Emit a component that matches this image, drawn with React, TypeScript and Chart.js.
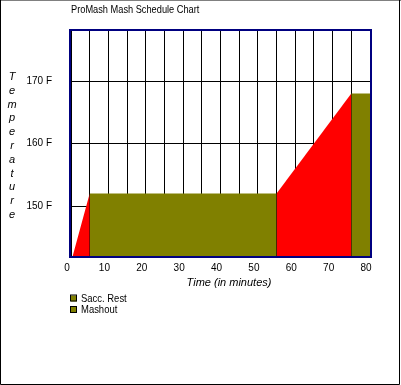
import React, { useEffect, useRef } from "react";
import { Chart, registerables } from "chart.js";

Chart.register(...registerables);

// Mash schedule profile (time in minutes, temperature in °F)
const stepTimes = [0, 5, 55, 75, 80];
const stepTemps = [141, 152, 152, 168, 168];
const segmentNames = ["Strike Ramp", "Sacc. Rest", "Mashout Ramp", "Mashout"];
const segmentColors = ["#FF0000", "#808000", "#FF0000", "#808000"];
const legendSegments = ["Sacc. Rest", "Mashout"];

const xTickValues = [0, 5, 10, 15, 20, 25, 30, 35, 40, 45, 50, 55, 60, 65, 70, 75, 80];
const yTickValues = [150, 160, 170];
const yMin = 142;
const yMax = 178;

const chartTitle = "ProMash Mash Schedule Chart";
const yTitle = "Temperature";
const xTitle = "Time (in minutes)";

const FONT = "'Liberation Sans', Arial, sans-serif";

function narrowText(ctx: CanvasRenderingContext2D, text: string, x: number, y: number, sx: number) {
  ctx.save();
  ctx.translate(x, y);
  ctx.scale(sx, 1);
  ctx.fillText(text, 0, 0);
  ctx.restore();
}

export default function App() {
  const ref = useRef<HTMLCanvasElement | null>(null);

  useEffect(() => {
    const canvas = ref.current;
    if (!canvas) return;

    const datasets = segmentNames.map((name, i) => ({
      label: name,
      data: [
        { x: stepTimes[i], y: stepTemps[i] },
        { x: stepTimes[i + 1], y: stepTemps[i + 1] },
      ],
      backgroundColor: segmentColors[i],
      borderColor: segmentColors[i],
      borderWidth: 0,
      pointRadius: 0,
      fill: "start",
      tension: 0,
    }));

    const decor = {
      id: "decor",
      afterDraw(chart: any) {
        const ctx = chart.ctx as CanvasRenderingContext2D;
        const a = chart.chartArea;
        ctx.save();
        // plot frame
        ctx.strokeStyle = "#000080";
        ctx.lineWidth = 2;
        ctx.strokeRect(a.left - 1, a.top - 1, a.right - a.left + 2, a.bottom - a.top + 2);
        // title
        ctx.fillStyle = "#000";
        ctx.font = `11px ${FONT}`;
        ctx.textAlign = "left";
        ctx.textBaseline = "middle";
        narrowText(ctx, chartTitle, a.left, 10, 0.84);
        // x title
        ctx.font = `italic 11px ${FONT}`;
        ctx.textAlign = "center";
        ctx.fillText(xTitle, 229, 283);
        // vertical stacked y title
        yTitle.split("").forEach((ch, i) => {
          ctx.fillText(ch, 12, 77 + i * 13.8);
        });
        // legend
        ctx.font = `11px ${FONT}`;
        ctx.textAlign = "left";
        legendSegments.forEach((name, i) => {
          const idx = segmentNames.indexOf(name);
          const y = 298.5 + i * 11.5;
          ctx.fillStyle = segmentColors[idx];
          ctx.fillRect(71, y - 3, 6, 6);
          ctx.strokeStyle = "#000";
          ctx.lineWidth = 1;
          ctx.strokeRect(70.5, y - 3.5, 6, 6);
          ctx.fillStyle = "#000";
          narrowText(ctx, name, 81, y, 0.86);
        });
        // outer frame
        const W = chart.width;
        const H = chart.height;
        ctx.lineWidth = 1;
        ctx.strokeStyle = "#808080";
        ctx.beginPath();
        ctx.moveTo(0, 0.5);
        ctx.lineTo(W, 0.5);
        ctx.stroke();
        ctx.strokeStyle = "#000";
        ctx.beginPath();
        ctx.moveTo(0.5, 0);
        ctx.lineTo(0.5, H - 0.5);
        ctx.lineTo(W - 1.5, H - 0.5);
        ctx.lineTo(W - 1.5, 0);
        ctx.stroke();
        ctx.restore();
      },
    };

    const chart = new Chart(canvas, {
      type: "line",
      data: { datasets } as any,
      options: {
        animation: false,
        responsive: false,
        maintainAspectRatio: false,
        layout: { padding: { top: 31, right: 31, left: 0, bottom: 95 } },
        plugins: {
          legend: { display: false },
          tooltip: { enabled: false },
          title: { display: false },
        },
        scales: {
          x: {
            type: "linear",
            min: 0,
            max: 80,
            z: 1,
            afterBuildTicks: (s: any) => {
              s.ticks = xTickValues.map((v) => ({ value: v }));
            },
            afterFit: (s: any) => {
              s.height = 34;
            },
            grid: { color: "#000", lineWidth: 1, drawTicks: false },
            border: { display: false },
            ticks: {
              color: "#000",
              font: { family: FONT, size: 10 },
              padding: 6,
              maxRotation: 0,
              autoSkip: false,
              labelOffset: -4,
              callback: (v: any) => (Number(v) % 10 === 0 ? String(v) : ""),
            },
            title: { display: false },
          },
          y: {
            type: "linear",
            min: yMin,
            max: yMax,
            z: 1,
            afterBuildTicks: (s: any) => {
              s.ticks = yTickValues.map((v) => ({ value: v }));
            },
            afterFit: (s: any) => {
              s.width = 71;
            },
            grid: { color: "#000", lineWidth: 1, drawTicks: false },
            border: { display: false },
            ticks: {
              color: "#000",
              font: { family: FONT, size: 10 },
              padding: 19,
              callback: (v: any) => `${v} F`,
            },
          },
        },
      },
      plugins: [decor],
    } as any);

    return () => chart.destroy();
  }, []);

  return (
    <div style={{ position: "absolute", left: 0, top: 0, width: 401, height: 385, background: "#fff" }}>
      <canvas ref={ref} width={401} height={385} style={{ width: 401, height: 385, display: "block" }} />
    </div>
  );
}
